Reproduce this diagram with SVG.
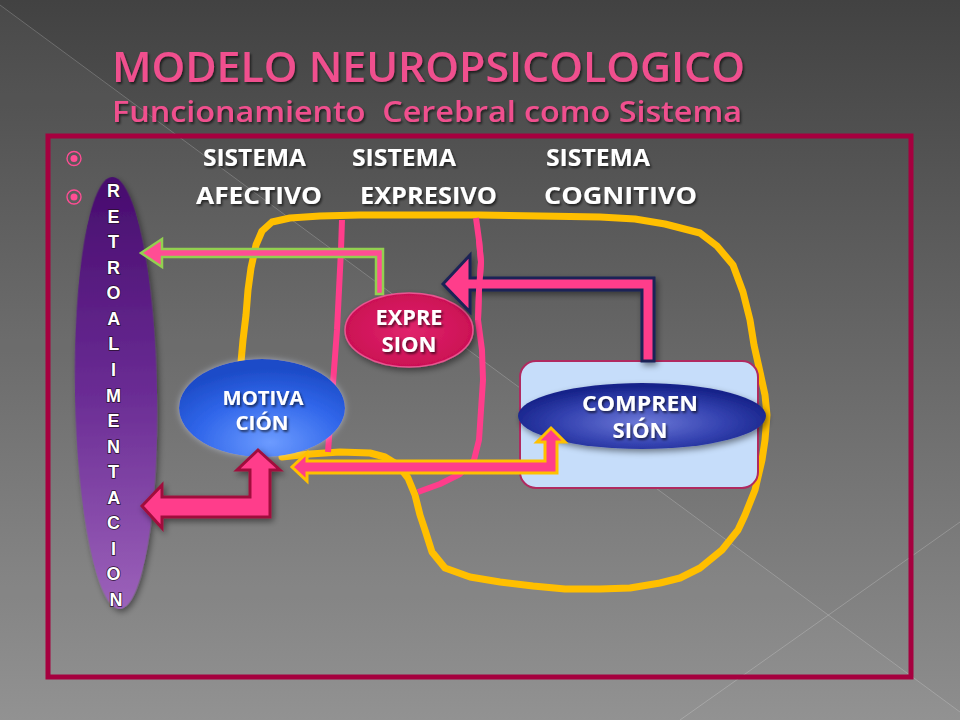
<svg xmlns="http://www.w3.org/2000/svg" width="960" height="720" viewBox="0 0 960 720">
<defs>
  <linearGradient id="bg" x1="0" y1="0" x2="0" y2="1">
    <stop offset="0" stop-color="#424242"/>
    <stop offset="1" stop-color="#8e8e8e"/>
  </linearGradient>
  <linearGradient id="purple" x1="0" y1="0" x2="0" y2="1">
    <stop offset="0" stop-color="#470c6e"/>
    <stop offset="0.5" stop-color="#6a2c94"/>
    <stop offset="1" stop-color="#9c62ba"/>
  </linearGradient>
  <radialGradient id="blue" cx="0.55" cy="0.85" r="0.75">
    <stop offset="0" stop-color="#6c9bff"/>
    <stop offset="0.6" stop-color="#3066ea"/>
    <stop offset="1" stop-color="#1d4cc8"/>
  </radialGradient>
  <radialGradient id="navy" cx="0.5" cy="0.6" r="0.55">
    <stop offset="0" stop-color="#6e7ad8"/>
    <stop offset="0.6" stop-color="#3442b0"/>
    <stop offset="1" stop-color="#17238a"/>
  </radialGradient>
  <radialGradient id="crimson" cx="0.5" cy="0.5" r="0.6">
    <stop offset="0" stop-color="#e0256c"/>
    <stop offset="1" stop-color="#c80c50"/>
  </radialGradient>
  <filter id="ts" x="-10%" y="-30%" width="120%" height="160%">
    <feDropShadow dx="1.5" dy="2" stdDeviation="1" flood-color="#000" flood-opacity="0.6"/>
  </filter>
  <filter id="sh" x="-20%" y="-30%" width="140%" height="160%">
    <feDropShadow dx="2" dy="3" stdDeviation="3" flood-color="#000" flood-opacity="0.45"/>
  </filter>
  <filter id="glow" x="-20%" y="-30%" width="140%" height="160%">
    <feDropShadow dx="0" dy="0" stdDeviation="3" flood-color="#dde6ff" flood-opacity="0.5"/>
  </filter>
</defs>
<style>
  .title { font-family: "Open Sans", "Liberation Sans", sans-serif; font-weight: 600; fill: #f0508e; }
  .hdr { font-family: "Open Sans", "Liberation Sans", sans-serif; font-weight: 700; font-size: 23px; fill: #ffffff; }
  .lbl { font-family: "Open Sans", "Liberation Sans", sans-serif; font-weight: 700; fill: #ffffff; text-anchor: middle; }
  .retro { font-family: "Liberation Sans", "DejaVu Sans", sans-serif; font-weight: 700; font-size: 18px; fill: #ffffff; stroke: #2a1030; stroke-width: 1.5px; paint-order: stroke; text-anchor: middle; }
  .brain { fill: none; stroke: #ffbf00; stroke-width: 7; stroke-linejoin: round; stroke-linecap: round; }
  .div { fill: none; stroke: #ff3d8b; stroke-width: 6; stroke-linejoin: round; stroke-linecap: butt; }
  .bul { fill: none; stroke: #ff4d94; stroke-width: 1.4; }
</style>

<!-- background -->
<rect x="0" y="0" width="960" height="720" fill="url(#bg)"/>
<polygon points="0,5 960,712 960,720 0,720" fill="#ffffff" opacity="0.04"/>
<line x1="0" y1="5" x2="960" y2="712" stroke="#ffffff" stroke-opacity="0.2" stroke-width="1"/>
<line x1="960" y1="522" x2="680" y2="720" stroke="#ffffff" stroke-opacity="0.2" stroke-width="1"/>

<!-- titles -->
<text class="title" x="112" y="82" font-size="42" textLength="633" lengthAdjust="spacingAndGlyphs" filter="url(#ts)">MODELO NEUROPSICOLOGICO</text>
<text class="title" x="112" y="122" font-size="28" textLength="630" lengthAdjust="spacingAndGlyphs" style="white-space:pre" filter="url(#ts)">Funcionamiento  Cerebral como Sistema</text>

<!-- frame -->
<rect x="48" y="136" width="863" height="541" fill="none" stroke="#a6003f" stroke-width="5"/>

<!-- bullets -->
<g id="bullets">
  <circle class="bul" cx="74" cy="158.5" r="7"/>
  <circle cx="74" cy="158.5" r="3.5" fill="#ff4d94"/>
  <circle class="bul" cx="74" cy="197" r="7"/>
  <circle cx="74" cy="197" r="3.5" fill="#ff4d94"/>
</g>

<!-- headers -->
<g id="headers" filter="url(#ts)">
  <text class="hdr" x="203" y="166" textLength="103" lengthAdjust="spacingAndGlyphs">SISTEMA</text>
  <text class="hdr" x="352" y="166" textLength="104" lengthAdjust="spacingAndGlyphs">SISTEMA</text>
  <text class="hdr" x="546" y="166" textLength="104" lengthAdjust="spacingAndGlyphs">SISTEMA</text>
  <text class="hdr" x="196" y="204" textLength="126" lengthAdjust="spacingAndGlyphs">AFECTIVO</text>
  <text class="hdr" x="360" y="204" textLength="137" lengthAdjust="spacingAndGlyphs">EXPRESIVO</text>
  <text class="hdr" x="544" y="204" textLength="153" lengthAdjust="spacingAndGlyphs">COGNITIVO</text>
</g>

<!-- brain outline and divisions -->
<g id="brain">
  <path class="brain" d="M241,362 L243,340 L246,315 L248,290 L251,268 L256,245 L262,231 L272,222 L290,218 L320,216 L360,215 L420,215 L480,215 L540,216 L600,217 L635,219 L665,224 L700,233 L717,246 L733,265 L743,292 L750,320 L754,345 L760,372 L765,395 L767,415 L765,440 L762,460 L755,490 L745,515 L738,530 L722,550 L700,568 L680,578 L660,583 L630,588 L600,589 L565,589 L533,586 L500,582 L470,577 L445,568 L432,552 L425,530 L420,515 L415,495 L408,478 L398,465 L385,457 L370,453 L340,452 L310,454 L282,457"/>
  <path class="div" d="M342,220 L341,250 L339,290 L337,330 L334,370 L331,410 L328,452"/>
  <path class="div" d="M476,218 L479,240 L481,262 L479,290 L478,320 L482,350 L483,380 L481,410 L479,440 L474,460 L460,474 L440,484 L418,492"/>
</g>

<!-- RETROALIMENTACION -->
<g id="retroalimentacion">
  <ellipse cx="116" cy="393" rx="41" ry="216" fill="url(#purple)" transform="rotate(-1 116 393)" filter="url(#sh)"/>
  <text class="retro">
    <tspan x="116" y="197">R</tspan>
    <tspan x="116" y="222.6">E</tspan>
    <tspan x="116" y="248.1">T</tspan>
    <tspan x="116" y="273.7">R</tspan>
    <tspan x="116" y="299.2">O</tspan>
    <tspan x="116" y="324.8">A</tspan>
    <tspan x="116" y="350.4">L</tspan>
    <tspan x="116" y="375.9">I</tspan>
    <tspan x="116" y="401.5">M</tspan>
    <tspan x="116" y="427">E</tspan>
    <tspan x="116" y="452.6">N</tspan>
    <tspan x="116" y="478.2">T</tspan>
    <tspan x="116" y="503.7">A</tspan>
    <tspan x="116" y="529.3">C</tspan>
    <tspan x="116" y="554.8">I</tspan>
    <tspan x="116" y="580.4">O</tspan>
    <tspan x="116" y="606">N</tspan>
  </text>
</g>

<!-- EXPRESION -->
<g id="expresion">
  <ellipse cx="409" cy="330" rx="64" ry="37" fill="url(#crimson)" stroke="#e85590" stroke-width="1.5" filter="url(#sh)"/>
  <g filter="url(#ts)">
    <text class="lbl" x="409" y="325" font-size="21" textLength="67" lengthAdjust="spacingAndGlyphs">EXPRE</text>
    <text class="lbl" x="409" y="352" font-size="21" textLength="55" lengthAdjust="spacingAndGlyphs">SION</text>
  </g>
</g>

<!-- MOTIVACION -->
<g id="motivacion">
  <ellipse cx="262" cy="408" rx="83" ry="49" fill="url(#blue)" filter="url(#glow)"/>
  <g filter="url(#ts)">
    <text class="lbl" x="263" y="405" font-size="20" textLength="81" lengthAdjust="spacingAndGlyphs">MOTIVA</text>
    <text class="lbl" x="262" y="430" font-size="20" textLength="53" lengthAdjust="spacingAndGlyphs">CIÓN</text>
  </g>
</g>

<!-- COMPRENSION -->
<g id="comprension">
  <rect x="520" y="361" width="238" height="127" rx="16" fill="#c6ddfa" stroke="#b02a60" stroke-width="2"/>
  <ellipse cx="642" cy="416" rx="124" ry="33" fill="url(#navy)" filter="url(#sh)"/>
  <g filter="url(#ts)">
    <text class="lbl" x="640" y="411" font-size="21" textLength="116" lengthAdjust="spacingAndGlyphs">COMPREN</text>
    <text class="lbl" x="640" y="438" font-size="21" textLength="55" lengthAdjust="spacingAndGlyphs">SIÓN</text>
  </g>
</g>

<!-- connectors -->
<g id="connectors">
  <polygon points="383,294 383,249 162,249 162,239 141,253 162,267 162,257 376,257 376,294" fill="#ff4d94" stroke="#92d050" stroke-width="2.5" stroke-linejoin="miter"/>
  <polygon points="654,361 654,278 470,278 470,255 443,284 470,312 470,290 642,290 642,361" fill="#ff3d8b" stroke="#1c2456" stroke-width="3" filter="url(#sh)"/>
  <polygon points="551,428 565,442 557,442 557,473 307,473 307,481 292,467 307,453 307,461 545,461 545,442 537,442" fill="#ff3d8b" stroke="#ffc000" stroke-width="3"/>
  <polygon points="258,450 280,470 270,470 270,517 162,517 162,528 142,506 162,485 162,497 250,497 250,470 237,470" fill="#ff3d8b" stroke="#a0103c" stroke-width="3" filter="url(#sh)"/>
</g>
<!-- pink division line passes over the navy arrow -->
<path class="div" d="M479,240 L481,262 L479,290 L478,320"/>
</svg>
